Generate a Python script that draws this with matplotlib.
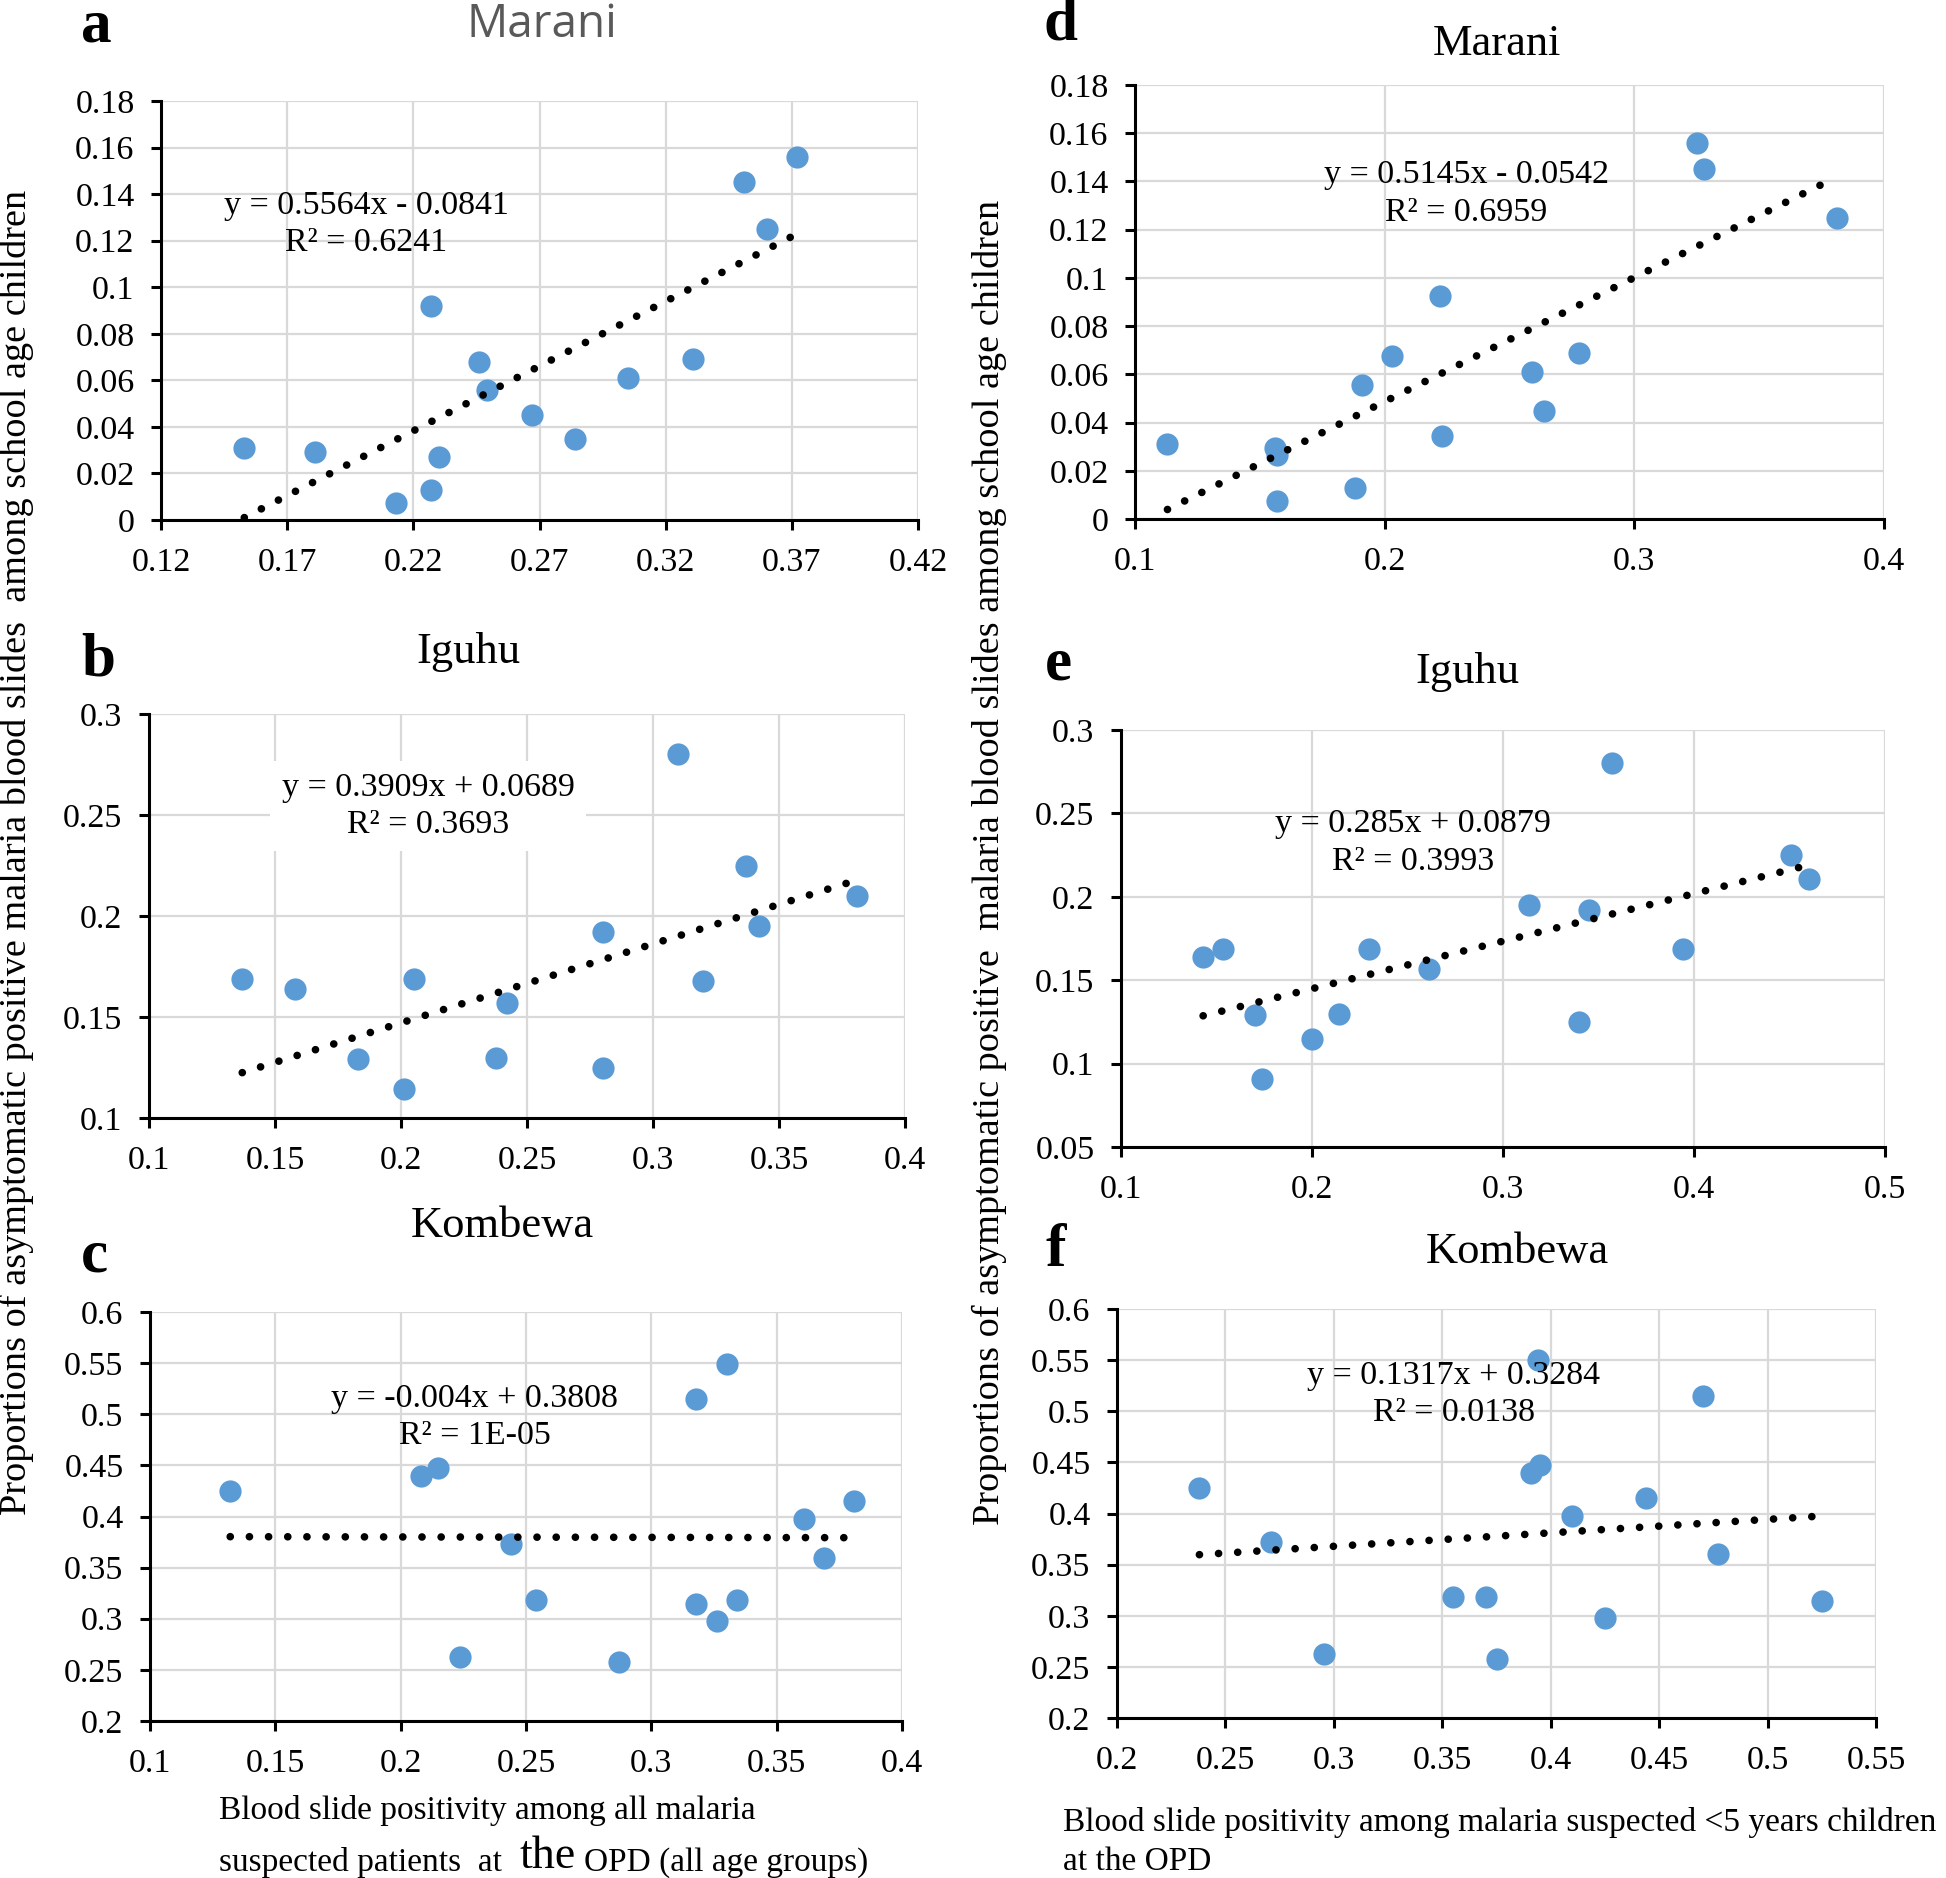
import numpy as np
import matplotlib.pyplot as plt

plt.rcParams['font.family'] = ['Liberation Serif', 'DejaVu Serif']

# panel a - Marani, all age groups
a_x = [0.153, 0.181, 0.213, 0.227, 0.230, 0.227, 0.246, 0.249, 0.267, 0.284, 0.305, 0.331, 0.351, 0.360, 0.372]
a_y = [0.031, 0.029, 0.0075, 0.013, 0.027, 0.092, 0.068, 0.056, 0.045, 0.035, 0.061, 0.069, 0.145, 0.125, 0.156]
# panel b - Iguhu, all age groups
b_x = [0.137, 0.158, 0.183, 0.201, 0.205, 0.2375, 0.242, 0.280, 0.280, 0.310, 0.320, 0.337, 0.342, 0.381]
b_y = [0.169, 0.164, 0.129, 0.1145, 0.169, 0.1295, 0.157, 0.192, 0.125, 0.280, 0.168, 0.225, 0.195, 0.210]
# panel c - Kombewa, all age groups
c_x = [0.132, 0.208, 0.215, 0.2235, 0.244, 0.254, 0.287, 0.318, 0.318, 0.326, 0.330, 0.334, 0.361, 0.369, 0.381]
c_y = [0.425, 0.440, 0.447, 0.263, 0.373, 0.318, 0.258, 0.314, 0.515, 0.298, 0.549, 0.318, 0.398, 0.359, 0.415]
# panel d - Marani, <5 years
d_x = [0.113, 0.156, 0.157, 0.157, 0.188, 0.191, 0.203, 0.222, 0.223, 0.259, 0.264, 0.278, 0.325, 0.328, 0.381]
d_y = [0.031, 0.0295, 0.0265, 0.0075, 0.013, 0.0555, 0.0675, 0.0925, 0.0345, 0.061, 0.045, 0.069, 0.156, 0.145, 0.125]
# panel e - Iguhu, <5 years
e_x = [0.143, 0.1535, 0.170, 0.174, 0.200, 0.214, 0.230, 0.261, 0.3135, 0.345, 0.340, 0.357, 0.394, 0.451, 0.460]
e_y = [0.164, 0.169, 0.129, 0.0905, 0.1145, 0.1295, 0.169, 0.157, 0.195, 0.192, 0.125, 0.280, 0.169, 0.225, 0.2105]
# panel f - Kombewa, <5 years
f_x = [0.238, 0.271, 0.2955, 0.355, 0.370, 0.375, 0.391, 0.395, 0.394, 0.410, 0.425, 0.444, 0.470, 0.477, 0.525]
f_y = [0.425, 0.372, 0.263, 0.318, 0.318, 0.258, 0.440, 0.447, 0.550, 0.398, 0.298, 0.415, 0.515, 0.360, 0.314]

# trend lines (slope, intercept) and their labels
fits = {'a': (0.5564, -0.0841), 'b': (0.3909, 0.0689), 'c': (-0.004, 0.3808),
        'd': (0.5145, -0.0542), 'e': (0.285, 0.0879), 'f': (0.1317, 0.3284)}
eqs = {'a': 'y = 0.5564x - 0.0841\nR² = 0.6241',
       'b': 'y = 0.3909x + 0.0689\nR² = 0.3693',
       'c': 'y = -0.004x + 0.3808\nR² = 1E-05',
       'd': 'y = 0.5145x - 0.0542\nR² = 0.6959',
       'e': 'y = 0.285x + 0.0879\nR² = 0.3993',
       'f': 'y = 0.1317x + 0.3284\nR² = 0.0138'}

xticks = {'a': [0.12, 0.17, 0.22, 0.27, 0.32, 0.37, 0.42],
          'b': [0.1, 0.15, 0.2, 0.25, 0.3, 0.35, 0.4],
          'c': [0.1, 0.15, 0.2, 0.25, 0.3, 0.35, 0.4],
          'd': [0.1, 0.2, 0.3, 0.4],
          'e': [0.1, 0.2, 0.3, 0.4, 0.5],
          'f': [0.2, 0.25, 0.3, 0.35, 0.4, 0.45, 0.5, 0.55]}
yticks = {'a': [0, 0.02, 0.04, 0.06, 0.08, 0.1, 0.12, 0.14, 0.16, 0.18],
          'b': [0.1, 0.15, 0.2, 0.25, 0.3],
          'c': [0.2, 0.25, 0.3, 0.35, 0.4, 0.45, 0.5, 0.55, 0.6],
          'd': [0, 0.02, 0.04, 0.06, 0.08, 0.1, 0.12, 0.14, 0.16, 0.18],
          'e': [0.05, 0.1, 0.15, 0.2, 0.25, 0.3],
          'f': [0.2, 0.25, 0.3, 0.35, 0.4, 0.45, 0.5, 0.55, 0.6]}

data = {'a': (a_x, a_y), 'b': (b_x, b_y), 'c': (c_x, c_y),
        'd': (d_x, d_y), 'e': (e_x, e_y), 'f': (f_x, f_y)}

W, H = 1946, 1878
fig = plt.figure(figsize=(W / 100, H / 100), dpi=100)

# axes boxes in pixels: left, right, top, bottom
boxes = {'a': (161, 918, 101, 520), 'b': (149, 905, 714, 1118), 'c': (150, 902, 1312, 1721),
         'd': (1135, 1884, 85, 519), 'e': (1121, 1885, 730, 1147), 'f': (1117, 1876, 1309, 1718)}
# equation label position (axes fraction)
eqpos = {'a': (0.271, 0.706), 'b': (0.369, 0.772), 'c': (0.432, 0.743),
         'd': (0.442, 0.749), 'e': (0.382, 0.729), 'f': (0.444, 0.792)}

for k in 'abcdef':
    l, r, t, b = boxes[k]
    ax = fig.add_axes([l / W, 1 - b / H, (r - l) / W, (b - t) / H])
    x, y = data[k]
    ax.plot(x, y, 'o', color='#5B9BD5', markersize=16, markeredgewidth=0, zorder=3)
    m, c0 = fits[k]
    xs = np.array([min(x), max(x)])
    ax.plot(xs, m * xs + c0, color='black', lw=5.5, linestyle=(0, (0.01, 2.5)),
            dash_capstyle='round', zorder=4)
    xt, yt = xticks[k], yticks[k]
    ax.set_xlim(xt[0], xt[-1])
    ax.set_ylim(yt[0], yt[-1])
    ax.set_xticks(xt)
    ax.set_yticks(yt)
    ax.set_xticklabels(['%g' % v for v in xt])
    ax.set_yticklabels(['%g' % v for v in yt])
    ax.grid(True, color='#d9d9d9', lw=1.6, zorder=0)
    ax.set_axisbelow(True)
    for s in ['top', 'right']:
        ax.spines[s].set_visible(False)
    for s in ['left', 'bottom']:
        ax.spines[s].set_linewidth(2.2)
        ax.spines[s].set_zorder(5)
    ax.tick_params(axis='both', labelsize=24.5, width=2.2, length=7, direction='out')
    ax.tick_params(axis='y', pad=12)
    ax.tick_params(axis='x', pad=13)
    bb = dict(facecolor='white', edgecolor='none', pad=8) if k == 'b' else None
    ax.text(eqpos[k][0], eqpos[k][1], eqs[k], transform=ax.transAxes, ha='center', va='center',
            multialignment='center', fontsize=24.5, linespacing=1.3, bbox=bb, zorder=6)


def ftext(px, py, s, **kw):
    fig.text(px / W, 1 - py / H, s, **kw)


# panel letters
for lab, px, py in [('a', 96, 27), ('b', 98, 660), ('c', 94, 1257),
                    ('d', 1061, 25), ('e', 1058, 665), ('f', 1056, 1251)]:
    ftext(px, py, lab, fontsize=44, fontweight='bold', ha='center', va='center')

# titles
ftext(542, 25, 'Marani', fontsize=33, family=['Open Sans', 'DejaVu Sans'], color='#595959',
      ha='center', va='center')
ftext(1497, 44, 'Marani', fontsize=32, ha='center', va='center')
ftext(468, 652, 'Iguhu', fontsize=32, ha='center', va='center')
ftext(1467, 672, 'Iguhu', fontsize=32, ha='center', va='center')
ftext(502, 1226, 'Kombewa', fontsize=32, ha='center', va='center')
ftext(1517, 1252, 'Kombewa', fontsize=32, ha='center', va='center')

# y labels
ylab = 'Proportions of asymptomatic positive malaria blood slides  among school age children'
ftext(16, 852, ylab, fontsize=27.5, rotation=90, ha='center', va='center')
ylab2 = 'Proportions of asymptomatic positive  malaria blood slides among school age children'
ftext(989, 862, ylab2, fontsize=27.5, rotation=90, ha='center', va='center')

# x labels
ftext(219, 1811, 'Blood slide positivity among all malaria', fontsize=24, ha='left', va='center')
ftext(219, 1863, 'suspected patients  at ', fontsize=24, ha='left', va='center')
ftext(520, 1857, 'the', fontsize=33, ha='left', va='center')
ftext(584, 1863, 'OPD (all age groups)', fontsize=24, ha='left', va='center')
ftext(1063, 1823, 'Blood slide positivity among malaria suspected <5 years children', fontsize=24,
      ha='left', va='center')
ftext(1063, 1862, 'at the OPD', fontsize=24, ha='left', va='center')

fig.savefig('out.png', dpi=100)
